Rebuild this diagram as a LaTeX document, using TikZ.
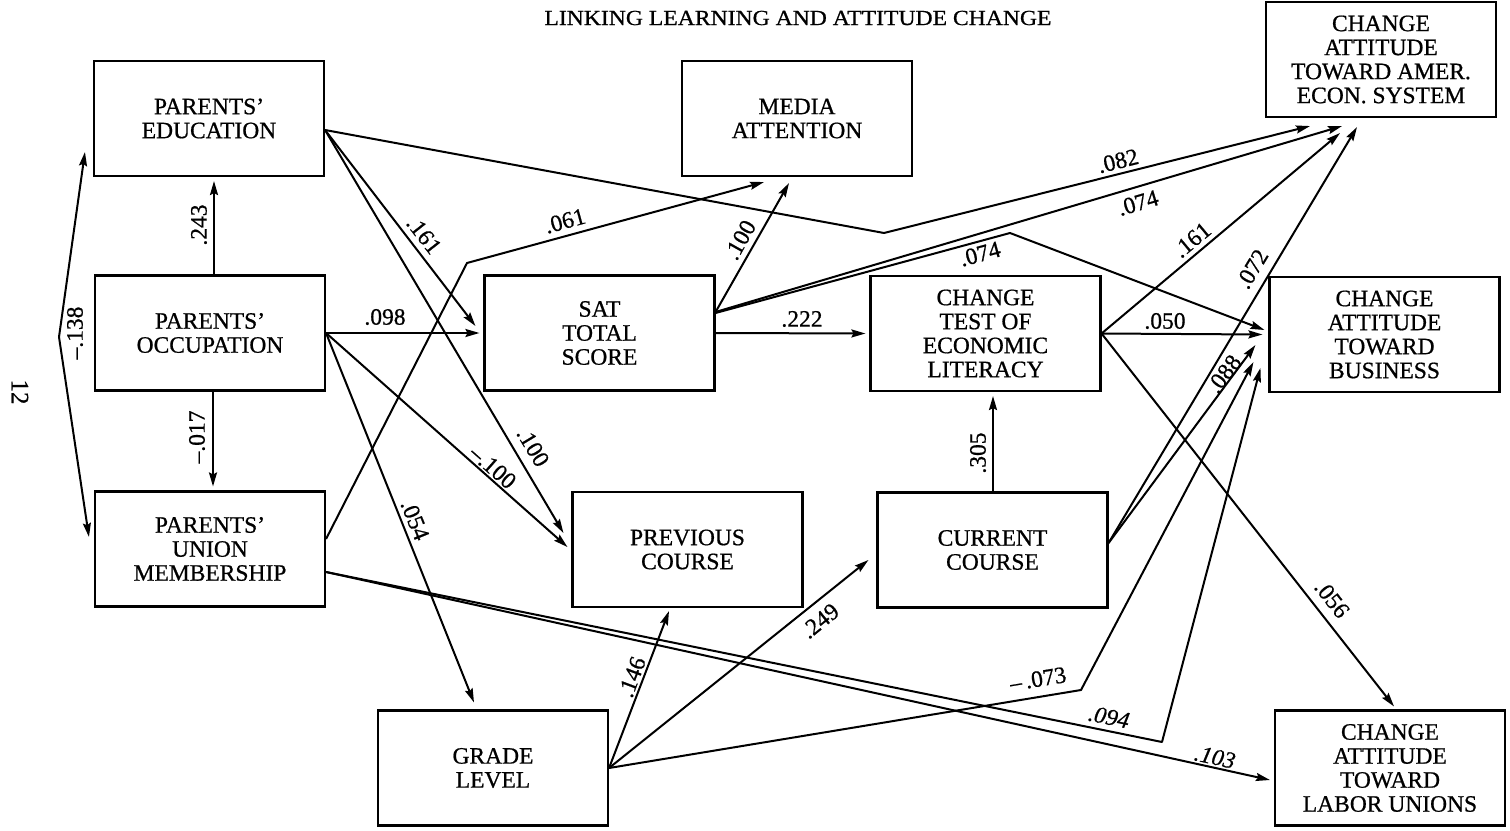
\documentclass[tikz,border=0pt]{standalone}
\usepackage{fontspec}
\setmainfont{Liberation Serif}
\newfontfamily\inkfont{Liberation Serif}[FakeBold=0.7]
\usetikzlibrary{arrows.meta,calc}
\begin{document}
\begin{tikzpicture}[x=1pt,y=-1pt,
  >={Stealth[length=14pt,width=8pt,inset=2pt]},
  box/.style={draw,line width=2.1pt,minimum width=230pt,minimum height=115pt,
    inner sep=0pt,align=center,font=\inkfont\fontsize{23.5}{24}\selectfont},
  conn/.style={line width=2pt,line join=round,->},
  dconn/.style={line width=2pt,line join=round,<->},
  coef/.style={font=\inkfont\fontsize{23.5}{24}\selectfont,inner sep=0pt},
  coefit/.style={font=\inkfont\fontsize{23.5}{24}\selectfont\itshape,inner sep=0pt},
]
\useasboundingbox (0,0) rectangle (1510,830);

% title
\node[font=\inkfont\fontsize{21.5}{22}\selectfont] (title) at (798,18)
  {\scalebox{1.1}[1]{LINKING LEARNING AND ATTITUDE CHANGE}};
% page number
\node[font=\inkfont\fontsize{25}{25}\selectfont,rotate=-90] (page) at (20,392) {12};

% variables
\node[box] (edu)   at (209,118.5)  {PARENTS’\\EDUCATION};
\node[box] (occ)   at (210,333)    {PARENTS’\\OCCUPATION};
\node[box] (uni)   at (210,549)    {PARENTS’\\UNION\\MEMBERSHIP};
\node[box] (media) at (797,118.5)  {MEDIA\\ATTENTION};
\node[box] (sat)   at (599.5,333)  {SAT\\TOTAL\\SCORE};
\node[box] (ctest) at (985.5,333.5){CHANGE\\TEST OF\\ECONOMIC\\LITERACY};
\node[box] (amer)  at (1381,59.5)  {CHANGE\\ATTITUDE\\TOWARD AMER.\\ECON. SYSTEM};
\node[box] (bus)   at (1384.5,334.5){CHANGE\\ATTITUDE\\TOWARD\\BUSINESS};
\node[box] (prev)  at (687.5,549.5){PREVIOUS\\COURSE};
\node[box] (curr)  at (992.5,550)  {CURRENT\\COURSE};
\node[box] (grade) at (493,768)    {GRADE\\LEVEL};
\node[box] (labor) at (1390,768)   {CHANGE\\ATTITUDE\\TOWARD\\LABOR UNIONS};

% bend points of the routed paths
\coordinate (k138) at (59,337);
\coordinate (k61)  at (467,263);
\coordinate (kA)   at (884,233);
\coordinate (kC)   at (1010,233);
\coordinate (k73)  at (1081,690);
\coordinate (k94)  at (1162,742);

% parents' background
\draw[conn] ([xshift=4pt]occ.north) -- ([xshift=5pt,yshift=-4pt]edu.south);
\draw[conn] ([xshift=3pt]occ.south) -- ([xshift=3pt,yshift=4pt]uni.north);
\draw[dconn] ([xshift=-8pt,yshift=-33.5pt]edu.west) -- (k138) -- ([xshift=-5pt,yshift=12pt]uni.west);

% from parents' education
\draw[conn] ([yshift=-11.5pt]edu.east) -- ([xshift=-8pt,yshift=7pt]sat.west);
\draw[conn] ([yshift=-11.5pt]edu.east) -- ([xshift=-8pt,yshift=16.5pt]prev.west);
\draw[conn] ([yshift=-11.5pt]edu.east) -- (kA) -- ([xshift=-71pt,yshift=-8pt]amer.south);

% from parents' occupation
\draw[conn] (occ.east) -- ([xshift=-4pt]sat.west);
\draw[conn] (occ.east) -- ([xshift=-4pt,yshift=2.5pt]prev.west);
\draw[conn] (occ.east) -- ([xshift=-19pt,yshift=7pt]grade.north);

% from parents' union membership
\draw[conn] ([yshift=10pt]uni.east) -- (k61) -- ([xshift=-33pt,yshift=-5pt]media.south);
\draw[conn] ([yshift=-23pt]uni.east) -- (k94) -- ([xshift=-8pt,yshift=-33.5pt]bus.west);
\draw[conn] ([yshift=-23pt]uni.east) -- ([xshift=-4pt,yshift=-12pt]labor.west);

% from SAT total score
\draw[conn] ([yshift=21pt]sat.east) -- ([xshift=-8pt,yshift=-6pt]media.south);
\draw[conn] ([yshift=21pt]sat.east) -- ([xshift=-39pt,yshift=-8pt]amer.south);
\draw[conn] ([yshift=20pt]sat.east) -- (kC) -- ([xshift=-4pt,yshift=4.5pt]bus.west);
\draw[conn] (sat.east) -- ([xshift=-4pt]ctest.west);

% from change test of economic literacy
\draw[conn] (ctest.east) -- ([xshift=-41pt,yshift=-15pt]amer.south);
\draw[conn] (ctest.east) -- ([xshift=-6pt]bus.west);
\draw[conn] (ctest.east) -- ([xshift=4pt,yshift=3pt]labor.north);

% from current course
\draw[conn] ([xshift=0.5pt]curr.north) -- ([xshift=7.5pt,yshift=-4pt]ctest.south);
\draw[conn] ([yshift=7pt]curr.east) -- ([xshift=-24pt,yshift=-9pt]amer.south);
\draw[conn] ([yshift=7pt]curr.east) -- ([xshift=-13pt,yshift=-10.5pt]bus.west);

% from grade level
\draw[conn] (grade.east) -- ([xshift=-18.5pt,yshift=-3pt]prev.south);
\draw[conn] (grade.east) -- ([xshift=-8pt,yshift=-10pt]curr.west);
\draw[conn] (grade.east) -- (k73) -- ([xshift=-15pt,yshift=-27.5pt]bus.west);

% path coefficients
\node[coef,rotate=90]    (c243)  at (199,225)  {.243};
\node[coef,rotate=90]    (c017)  at (197,437)  {–.017};
\node[coef,rotate=90]    (c138)  at (75,333)   {–.138};
\node[coef]              (c098)  at (385,317)  {.098};
\node[coef,rotate=-51.8] (c161a) at (424,235)  {.161};
\node[coef,rotate=-59]   (c100a) at (533,447)  {.100};
\node[coef,rotate=-41.4] (c100b) at (493,467)  {–.100};
\node[coef,rotate=-68]   (c054)  at (415,520)  {.054};
\node[coef,rotate=15.4]  (c061)  at (565,221)  {.061};
\node[coef,rotate=60.7]  (c100c) at (740,240)  {.100};
\node[coef]              (c222)  at (802,319)  {.222};
\node[coef,rotate=14]    (c082)  at (1118,161) {.082};
\node[coef,rotate=16.6]  (c074a) at (1138,203) {.074};
\node[coef,rotate=15.2]  (c074b) at (980,254)  {.074};
\node[coef,rotate=39.9]  (c161b) at (1192,240) {.161};
\node[coef,rotate=59]    (c072)  at (1252,269) {.072};
\node[coef]              (c050)  at (1165,321) {.050};
\node[coef,rotate=53]    (c088)  at (1224,374) {.088};
\node[coef,rotate=-51.8] (c056)  at (1332,599) {.056};
\node[coef,rotate=90]    (c305)  at (978,453)  {.305};
\node[coef,rotate=69.5]  (c146)  at (632,677)  {.146};
\node[coef,rotate=38.8]  (c249)  at (820,621)  {.249};
\node[coef,rotate=9.4]   (c073)  at (1038,679) {–\,.073};
\node[coefit,rotate=-11.5] (c094) at (1109,717) {.094};
\node[coefit,rotate=-12.4] (c103) at (1215,757) {.103};
\end{tikzpicture}
\end{document}
